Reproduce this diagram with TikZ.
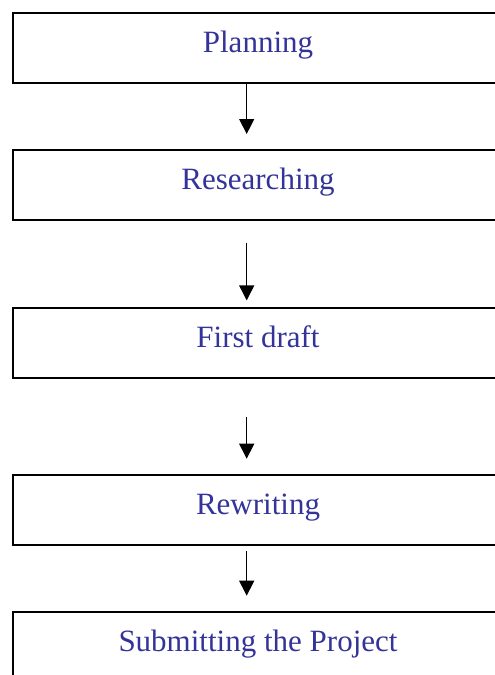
\documentclass[tikz,border=0pt]{standalone}
\usepackage{fontspec}
\setmainfont{Liberation Serif}
\usetikzlibrary{arrows.meta,calc}
\definecolor{txtblue}{HTML}{333399}
\tikzset{
  stepbox/.style={draw=black,line width=2pt,rectangle,minimum width=490pt,minimum height=70pt,inner sep=0pt,
    text=txtblue,font=\fontsize{31}{36}\selectfont,text height=20pt,text depth=12pt},
  flow/.style={line width=1.3pt,-{Triangle[width=15pt,length=15pt]}}
}
\begin{document}
\begin{tikzpicture}[x=1pt,y=-1pt]
\useasboundingbox (0,0) rectangle (495,675);
\clip (0,0) rectangle (495,675);
\node[stepbox] (b1) at (258,48) {Planning};
\node[stepbox] (b2) at (258,185) {Researching};
\node[stepbox] (b3) at (258,343) {First draft};
\node[stepbox] (b4) at (258,510) {Rewriting};
\node[stepbox] (b5) at (258,647) {Submitting the Project};
\draw[flow] ($(b1.south)+(-11.3,-2)$) -- ($(b2.north)+(-11.3,-15)$);
\draw[flow] ($(b2.south)+(-11.3,21.7)$) -- ($(b3.north)+(-11.3,-6.6)$);
\draw[flow] ($(b3.south)+(-11.3,38)$) -- ($(b4.north)+(-11.3,-15.3)$);
\draw[flow] ($(b4.south)+(-11.3,5.4)$) -- ($(b5.north)+(-11.3,-15.3)$);
\end{tikzpicture}
\end{document}
